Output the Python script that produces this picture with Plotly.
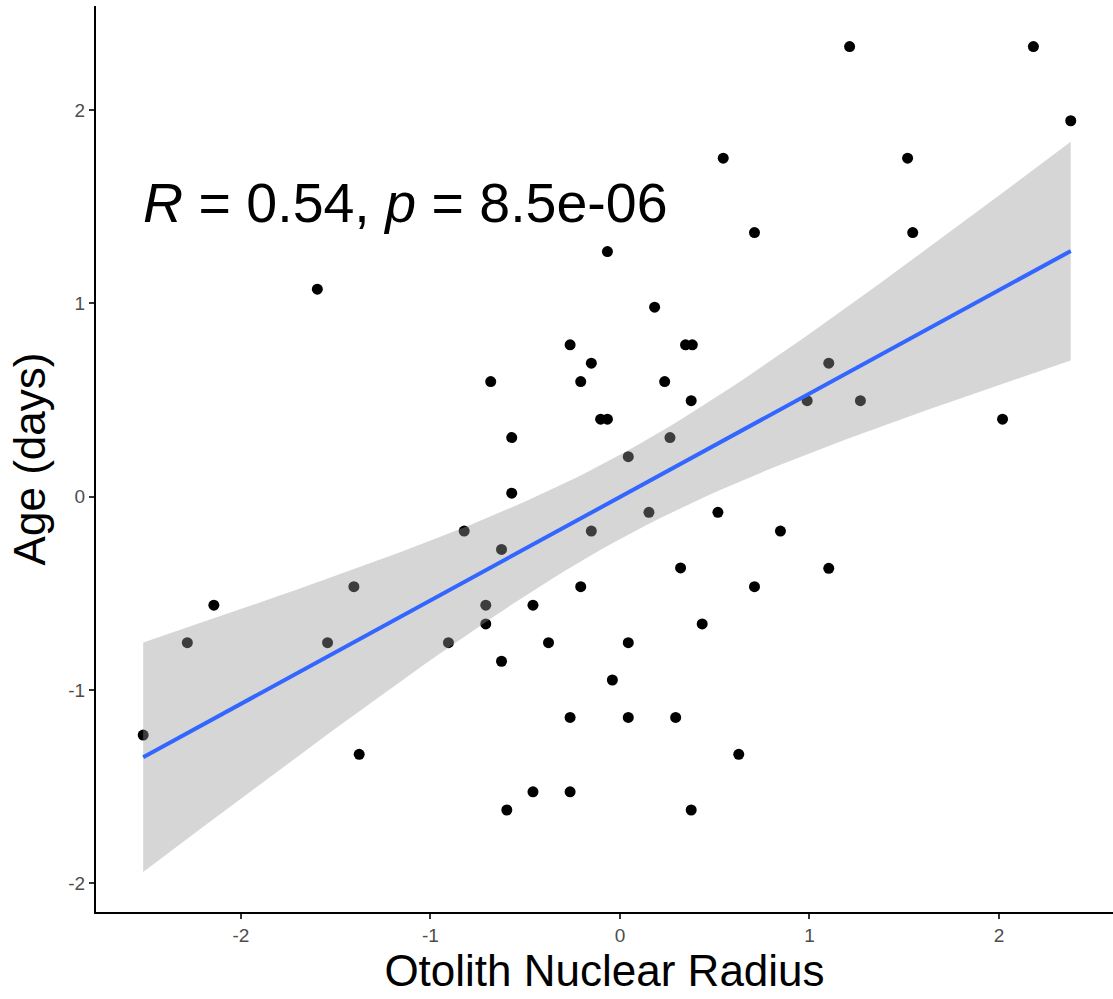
import numpy as np
import plotly.graph_objects as go

# Data
radius = [-2.516, -2.283, -2.143, -1.597, -1.543, -1.404, -1.376, -0.905, -0.822, -0.708,
          -0.708, -0.682, -0.625, -0.625, -0.597, -0.571, -0.571, -0.459, -0.459, -0.377,
          -0.263, -0.263, -0.263, -0.207, -0.207, -0.151, -0.151, -0.102, -0.066, -0.066,
          -0.040, 0.044, 0.044, 0.044, 0.153, 0.183, 0.236, 0.264, 0.294, 0.320,
          0.346, 0.382, 0.376, 0.376, 0.434, 0.517, 0.545, 0.627, 0.710, 0.710,
          0.847, 0.988, 1.102, 1.102, 1.212, 1.269, 1.518, 1.545, 2.019, 2.182, 2.379]
age = [-1.234, -0.756, -0.562, 1.074, -0.756, -0.466, -1.334, -0.756, -0.178, -0.562,
       -0.659, 0.596, -0.273, -0.852, -1.622, 0.306, 0.018, -0.562, -1.528, -0.756,
       0.786, -1.143, -1.528, 0.596, -0.466, 0.691, -0.178, 0.401, 0.401, 1.269,
       -0.949, 0.207, -0.756, -1.143, -0.081, 0.981, 0.596, 0.306, -1.143, -0.369,
       0.786, 0.786, 0.497, -1.622, -0.659, -0.081, 1.752, -1.334, 1.367, -0.466,
       -0.178, 0.497, 0.691, -0.371, 2.330, 0.497, 1.752, 1.367, 0.401, 2.330, 1.946]
x_ticks = [-2, -1, 0, 1, 2]
y_ticks = [-2, -1, 0, 1, 2]
label_text = "<i>R</i> = 0.54, <i>p</i> = 8.5e-06"

x = np.array(radius)
y = np.array(age)
n = len(x)
slope, intercept = np.polyfit(x, y, 1)
resid = y - (slope * x + intercept)
s = np.sqrt(np.sum(resid ** 2) / (n - 2))
xbar = x.mean()
sxx = np.sum((x - xbar) ** 2)
tq = 2.001
grid = np.linspace(x.min(), x.max(), 80)
fit = slope * grid + intercept
se = s * np.sqrt(1.0 / n + (grid - xbar) ** 2 / sxx)
upper = fit + tq * se
lower = fit - tq * se

FONT = "Liberation Sans, Arial, sans-serif"

fig = go.Figure()
fig.add_trace(go.Scatter(x=radius, y=age, mode="markers",
                         marker=dict(color="black", size=11, line=dict(width=0)),
                         showlegend=False, hoverinfo="skip"))
fig.add_trace(go.Scatter(x=np.concatenate([grid, grid[::-1]]),
                         y=np.concatenate([upper, lower[::-1]]),
                         fill="toself", fillcolor="rgba(153,153,153,0.4)",
                         line=dict(width=0), mode="lines",
                         showlegend=False, hoverinfo="skip"))
fig.add_trace(go.Scatter(x=grid, y=fit, mode="lines",
                         line=dict(color="#3366FF", width=4),
                         showlegend=False, hoverinfo="skip"))

fig.add_annotation(x=-2.528, y=1.52, xref="x", yref="y", text=label_text,
                   showarrow=False, xanchor="left", yanchor="middle",
                   font=dict(family=FONT, size=55.5, color="black"))

axis_common = dict(showgrid=False, zeroline=False, showline=True, linecolor="black",
                   linewidth=2, ticks="outside", ticklen=5, tickwidth=1.5,
                   tickcolor="#333333",
                   tickfont=dict(family=FONT, size=19, color="#4D4D4D"))

fig.update_layout(
    width=1113, height=999,
    margin=dict(l=96, r=0, t=6, b=87),
    paper_bgcolor="white", plot_bgcolor="white",
    xaxis=dict(range=[-2.765, 2.602], tickvals=x_ticks, ticktext=[str(v) for v in x_ticks],
               title=dict(text="Otolith Nuclear Radius", standoff=5,
                          font=dict(family=FONT, size=44, color="black")),
               **axis_common),
    yaxis=dict(range=[-2.15, 2.54], tickvals=y_ticks, ticktext=[str(v) for v in y_ticks],
               title=dict(text="Age (days)", standoff=9,
                          font=dict(family=FONT, size=44, color="black")),
               **axis_common),
)

fig.write_html("out.html")
